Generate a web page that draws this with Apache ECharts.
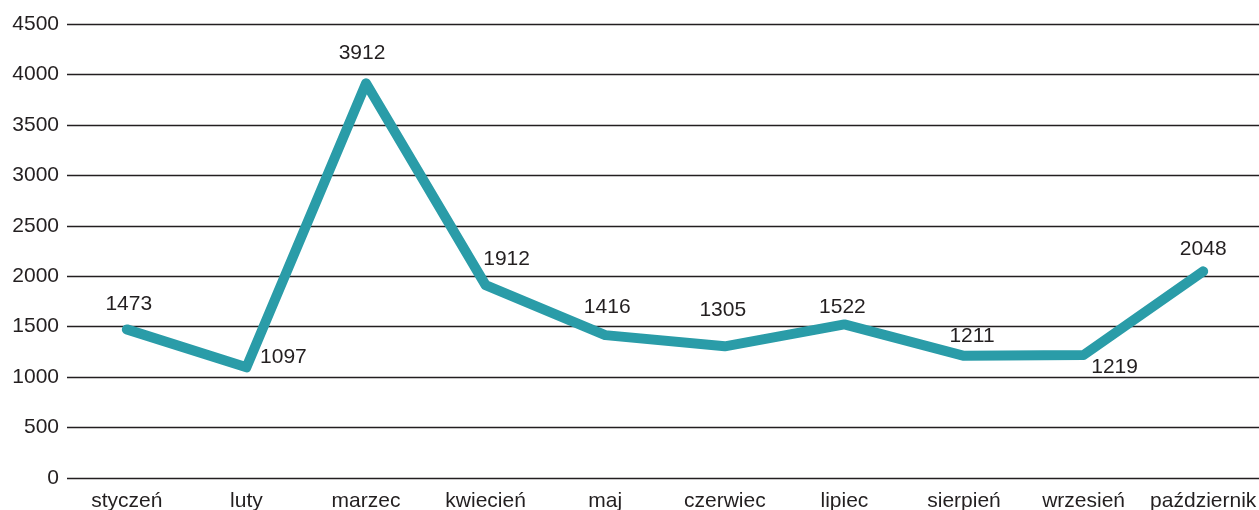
<!DOCTYPE html>
<html>
<head>
<meta charset="utf-8">
<script src="https://cdn.jsdelivr.net/npm/echarts@6/dist/echarts.min.js"></script>
<style>
  html, body { margin: 0; padding: 0; background: #fff; }
  #chart { width: 1259px; height: 510px; }
</style>
</head>
<body>
<div id="chart"></div>
<script>
// Monthly values
const months = ['styczeń', 'luty', 'marzec', 'kwiecień', 'maj', 'czerwiec', 'lipiec', 'sierpień', 'wrzesień', 'październik'];
const values = [1473, 1097, 3912, 1912, 1416, 1305, 1522, 1211, 1219, 2048];
const yTicks = [0, 500, 1000, 1500, 2000, 2500, 3000, 3500, 4000, 4500];

// Label offsets (px) from each point, so labels sit clear of the line
const labelOffsets = [
  [2, -25], [37, -10], [-4, -30], [21, -26], [2, -28],
  [-2, -36], [-2, -17], [8, -20], [31, 12], [0, -22]
];

const chart = echarts.init(document.getElementById('chart'));
const font = 'Liberation Sans, Arial, sans-serif';
const textColor = '#231f20';

chart.setOption({
  animation: false,
  grid: {
    left: 67, top: 24, width: 1196, height: 454,
    containLabel: false, outerBoundsMode: 'none'
  },
  xAxis: {
    type: 'category',
    data: months,
    boundaryGap: true,
    axisLine: { show: false },
    axisTick: { show: false },
    axisLabel: { color: textColor, fontSize: 21, fontFamily: font, margin: 13, interval: 0 }
  },
  yAxis: {
    type: 'value',
    min: yTicks[0],
    max: yTicks[yTicks.length - 1],
    interval: yTicks[1] - yTicks[0],
    axisLine: { show: false },
    axisTick: { show: false },
    axisLabel: {
      color: textColor, fontSize: 21, fontFamily: font, margin: 8,
      formatter: v => String(v)
    },
    splitLine: { lineStyle: { color: textColor, width: 1.3 } }
  },
  series: [{
    type: 'line',
    data: values.map((v, i) => ({
      value: v,
      label: { offset: labelOffsets[i] }
    })),
    symbol: 'circle',
    symbolSize: 1,
    itemStyle: { color: 'rgba(0,0,0,0)' },
    lineStyle: { color: '#2a9ca8', width: 10, cap: 'round', join: 'round' },
    label: {
      show: true,
      position: 'inside',
      align: 'center',
      verticalAlign: 'middle',
      color: textColor,
      fontSize: 21,
      fontFamily: font,
      formatter: p => String(p.value)
    },
    z: 3
  }]
});
</script>
</body>
</html>
